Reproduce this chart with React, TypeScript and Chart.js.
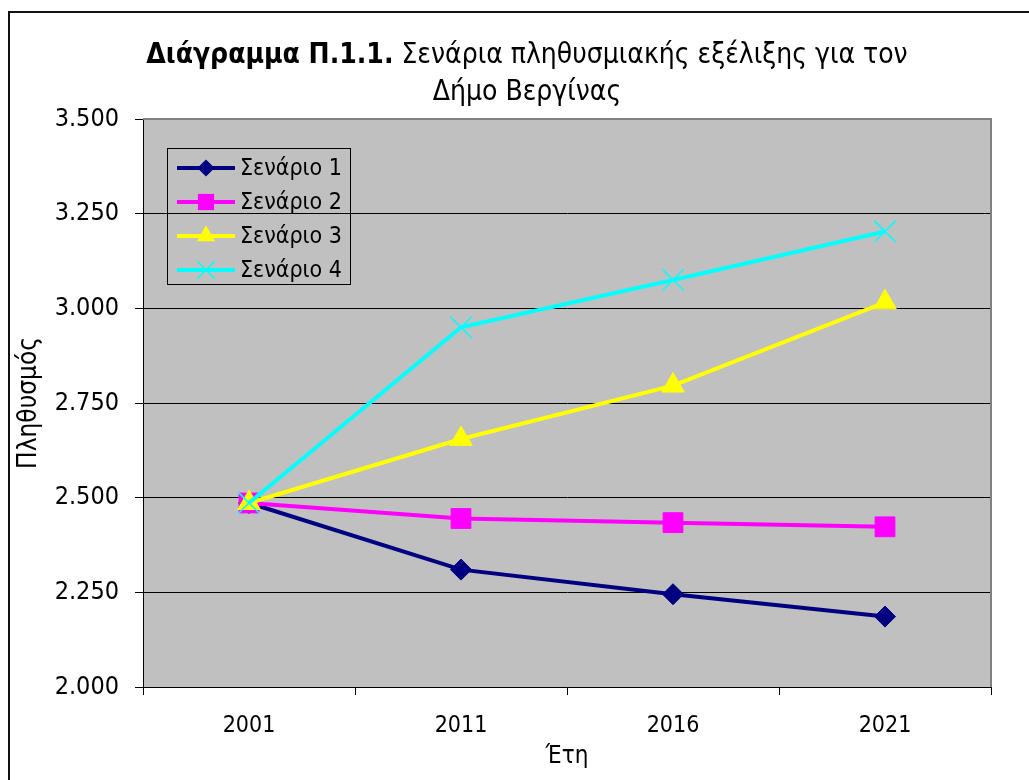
import { useEffect, useRef } from 'react';
import { Chart, registerables } from 'chart.js';

Chart.register(...registerables);

const years = ['2001', '2011', '2016', '2021'];
const scenario1 = [2486, 2310, 2245, 2186];
const scenario2 = [2486, 2445, 2434, 2423];
const scenario3 = [2486, 2655, 2796, 3016];
const scenario4 = [2486, 2950, 3075, 3203];
const seriesNames = ['Σενάριο 1', 'Σενάριο 2', 'Σενάριο 3', 'Σενάριο 4'];
const seriesColors = ['#000080', '#FF00FF', '#FFFF00', '#00FFFF'];
const yMin = 2000;
const yMax = 3500;
const yStep = 250;
const titleBold = 'Διάγραμμα Π.1.1.';
const titleRest = ' Σενάρια πληθυσμιακής εξέλιξης για τον';
const titleLine2 = 'Δήμο Βεργίνας';
const xTitle = 'Έτη';
const yTitle = 'Πληθυσμός';

const FONT = "'DejaVu Sans Condensed', 'DejaVu Sans', sans-serif";

function fmt(v: number): string {
  const th = Math.floor(v / 1000);
  const rest = String(Math.round(v % 1000)).padStart(3, '0');
  return th + '.' + rest;
}

function drawMarker(ctx: CanvasRenderingContext2D, style: string, x: number, y: number, r: number, color: string) {
  ctx.save();
  ctx.fillStyle = color;
  ctx.strokeStyle = color;
  ctx.beginPath();
  if (style === 'rectRot') {
    ctx.moveTo(x, y - r);
    ctx.lineTo(x + r, y);
    ctx.lineTo(x, y + r);
    ctx.lineTo(x - r, y);
    ctx.closePath();
    ctx.fill();
  } else if (style === 'rect') {
    const s = r * Math.SQRT1_2;
    ctx.rect(x - s, y - s, 2 * s, 2 * s);
    ctx.fill();
  } else if (style === 'triangle') {
    ctx.moveTo(x, y - r);
    ctx.lineTo(x + r * Math.sin(Math.PI / 3), y + r / 2);
    ctx.lineTo(x - r * Math.sin(Math.PI / 3), y + r / 2);
    ctx.closePath();
    ctx.fill();
  } else {
    const d = r * Math.SQRT1_2;
    ctx.lineWidth = 1.5;
    ctx.moveTo(x - d, y - d);
    ctx.lineTo(x + d, y + d);
    ctx.moveTo(x + d, y - d);
    ctx.lineTo(x - d, y + d);
    ctx.stroke();
  }
  ctx.restore();
}

const pointStyles = ['rectRot', 'rect', 'triangle', 'crossRot'];
const pointRadii = [10.5, 14, 13, 15];

const decorPlugin = {
  id: 'decor',
  beforeDraw(chart: any) {
    const { ctx, chartArea } = chart;
    ctx.save();
    ctx.fillStyle = '#FFFFFF';
    ctx.fillRect(0, 0, chart.width, chart.height);
    ctx.fillStyle = '#C0C0C0';
    ctx.fillRect(chartArea.left, chartArea.top, chartArea.right - chartArea.left, chartArea.bottom - chartArea.top);
    ctx.strokeStyle = '#111111';
    ctx.lineWidth = 2;
    ctx.beginPath();
    ctx.moveTo(9, chart.height + 2);
    ctx.lineTo(9, 12);
    ctx.lineTo(chart.width + 2, 12);
    ctx.stroke();
    ctx.restore();
  },
  beforeDatasetsDraw(chart: any) {
    const { ctx, chartArea } = chart;
    ctx.save();
    ctx.strokeStyle = '#808080';
    ctx.lineWidth = 2;
    ctx.beginPath();
    ctx.moveTo(chartArea.left, chartArea.top);
    ctx.lineTo(chartArea.right, chartArea.top);
    ctx.lineTo(chartArea.right, chartArea.bottom);
    ctx.stroke();
    ctx.restore();
  },
  afterDraw(chart: any) {
    const { ctx } = chart;
    ctx.save();
    const cx = 527;
    const tSize = 28;
    ctx.textBaseline = 'middle';
    ctx.fillStyle = '#000';
    ctx.font = `bold ${tSize}px ${FONT}`;
    const wB = ctx.measureText(titleBold).width;
    ctx.font = `${tSize}px ${FONT}`;
    const wN = ctx.measureText(titleRest).width;
    const start = cx - (wB + wN) / 2;
    ctx.textAlign = 'left';
    ctx.font = `bold ${tSize}px ${FONT}`;
    ctx.fillText(titleBold, start, 56);
    ctx.font = `${tSize}px ${FONT}`;
    ctx.fillText(titleRest, start + wB, 56);
    ctx.textAlign = 'center';
    ctx.fillText(titleLine2, cx, 93);

    const bx = 167.5, by = 148.5, bw = 183, bh = 136;
    ctx.strokeStyle = '#000';
    ctx.lineWidth = 1;
    ctx.strokeRect(bx, by, bw, bh);
    const rows = [168, 202, 236, 270];
    ctx.textAlign = 'left';
    ctx.font = `23px ${FONT}`;
    chart.data.datasets.forEach((ds: any, i: number) => {
      const y = rows[i];
      ctx.strokeStyle = ds.borderColor;
      ctx.lineWidth = 4;
      ctx.beginPath();
      ctx.moveTo(177, y);
      ctx.lineTo(235, y);
      ctx.stroke();
      drawMarker(ctx, pointStyles[i], 206, y, pointRadii[i] * 0.82, ds.borderColor);
      ctx.fillStyle = '#000';
      ctx.fillText(ds.label, 240, y + 1);
    });
    ctx.restore();
  },
};

export default function App() {
  const ref = useRef<HTMLCanvasElement>(null);
  useEffect(() => {
    const series = [scenario1, scenario2, scenario3, scenario4];
    const chart = new Chart(ref.current!, {
      type: 'line',
      data: {
        labels: years,
        datasets: series.map((d, i) => ({
          label: seriesNames[i],
          data: d,
          borderColor: seriesColors[i],
          backgroundColor: seriesColors[i],
          pointBackgroundColor: seriesColors[i],
          pointBorderColor: seriesColors[i],
          pointStyle: pointStyles[i] as any,
          pointRadius: pointRadii[i],
          pointBorderWidth: i === 3 ? 1.5 : 1,
          borderWidth: 4,
          tension: 0,
          order: 4 - i,
          clip: false as any,
        })),
      },
      options: {
        responsive: false,
        animation: false,
        layout: { padding: { top: 119, left: 0, right: 38, bottom: 0 } },
        plugins: {
          legend: { display: false },
          title: { display: false },
          tooltip: { enabled: false },
        },
        scales: {
          x: {
            type: 'category',
            offset: true,
            grid: { offset: true, drawOnChartArea: false, drawTicks: true, tickLength: 8, color: '#000' },
            border: { display: true, color: '#000', width: 1 },
            ticks: { color: '#000', font: { family: FONT, size: 23 }, padding: 17 },
            title: { display: true, text: xTitle, color: '#000', font: { family: FONT, size: 24 }, padding: { top: 0, bottom: 9 } },
            afterFit: (s: any) => { s.height = 93; },
          },
          y: {
            min: yMin,
            max: yMax,
            ticks: { stepSize: yStep, color: '#000', font: { family: FONT, size: 25 }, padding: 16, callback: (v: any) => fmt(Number(v)) },
            grid: { color: '#000', lineWidth: 1, drawTicks: true, tickLength: 8 },
            border: { display: true, color: '#000', width: 1 },
            title: { display: true, text: yTitle, color: '#000', font: { family: FONT, size: 26 }, padding: { top: 14, bottom: 0 } },
            afterFit: (s: any) => { s.width = 143; },
          },
        },
      },
      plugins: [decorPlugin],
    });
    return () => chart.destroy();
  }, []);
  return (
    <div style={{ position: 'fixed', left: 0, top: 0, width: 1029, height: 780 }}>
      <canvas ref={ref} width={1029} height={780} />
    </div>
  );
}
